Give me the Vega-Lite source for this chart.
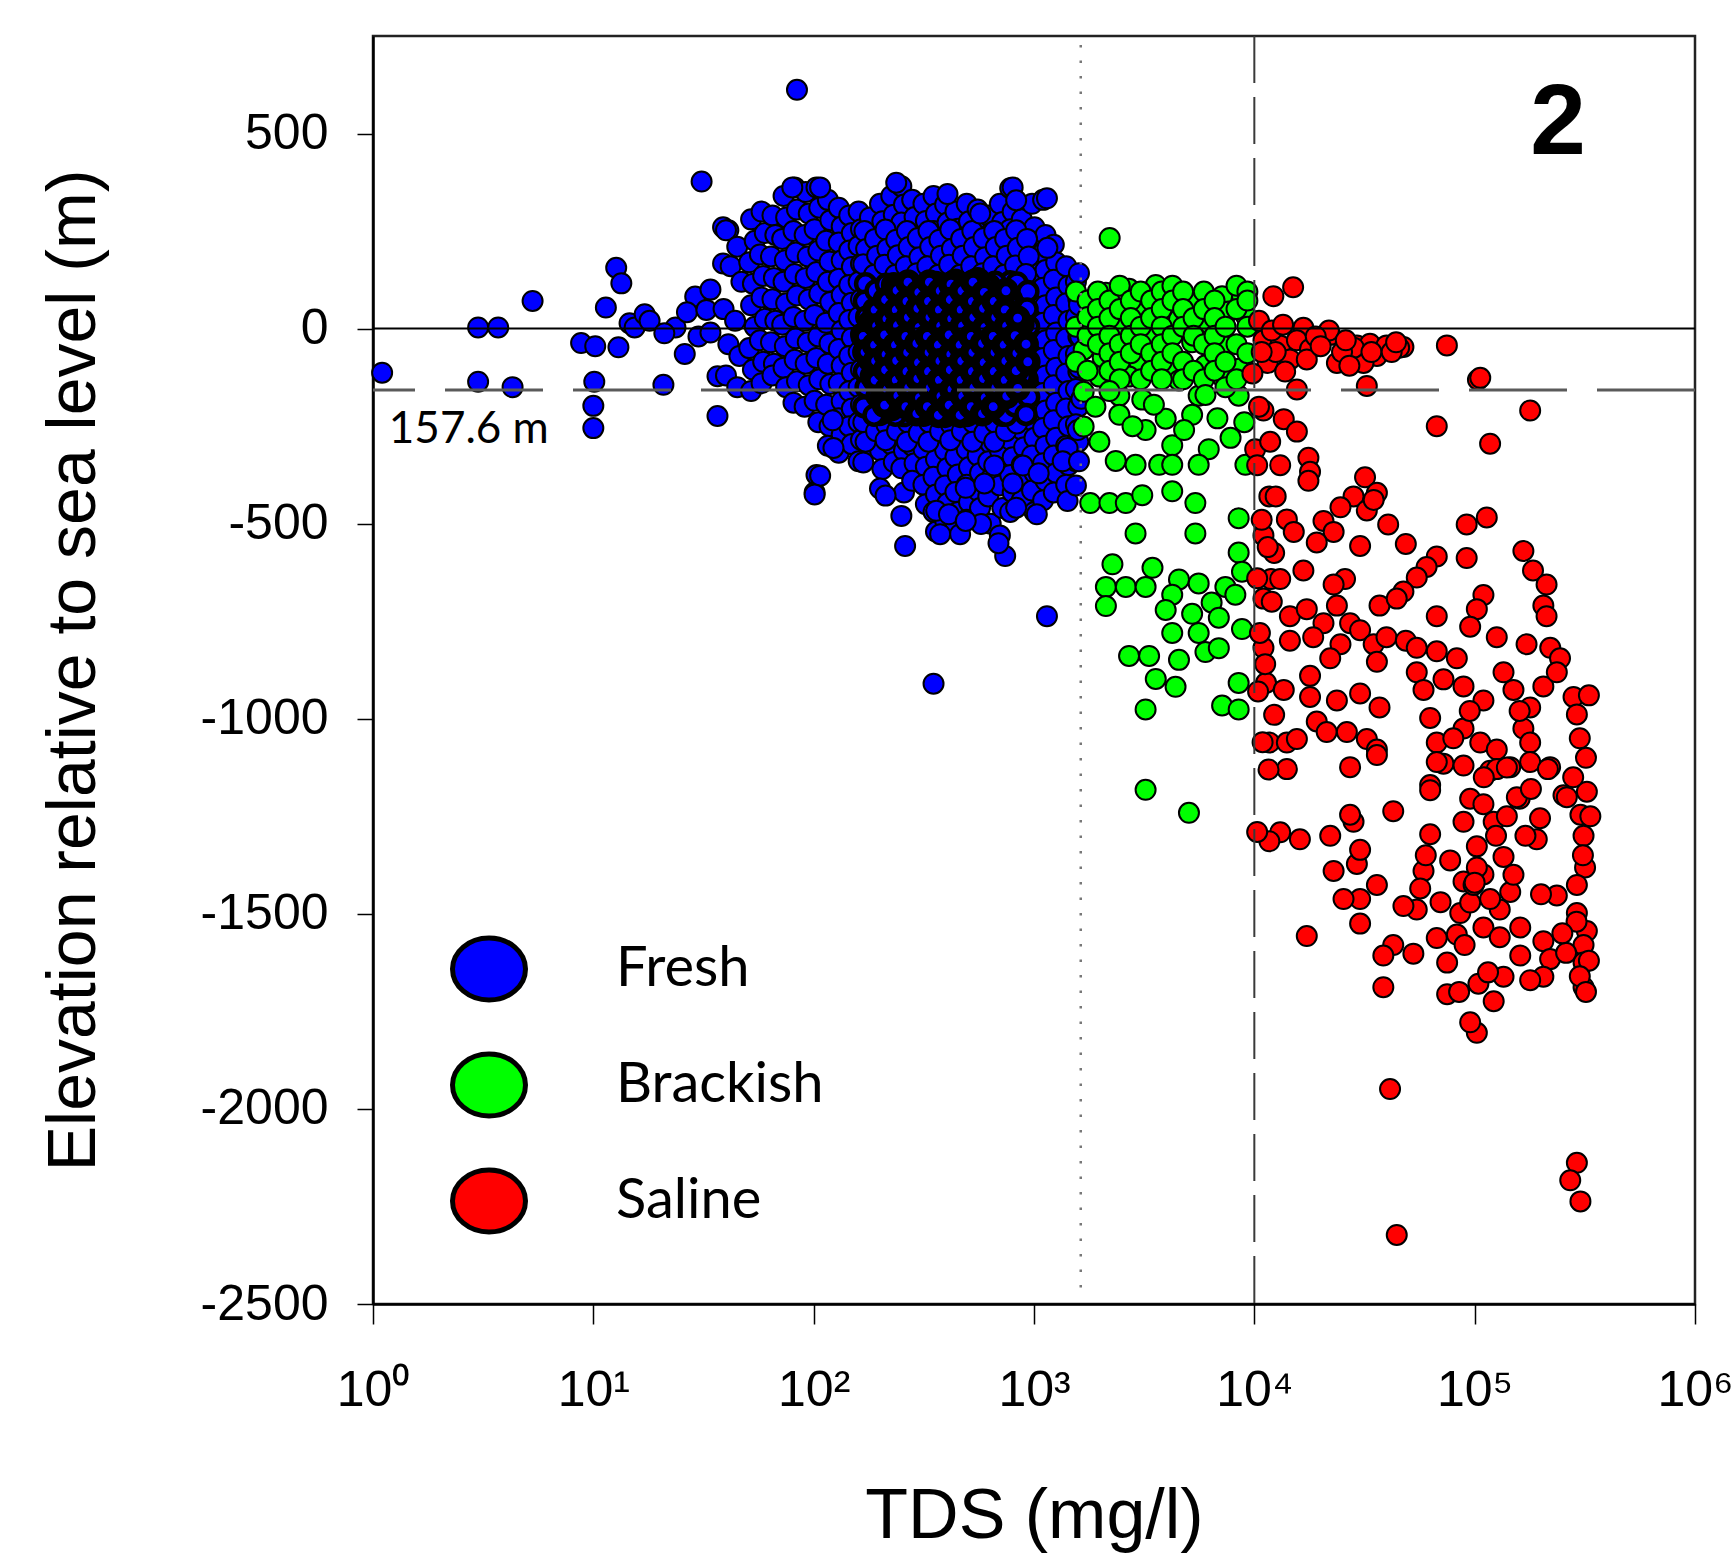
{
"$schema":"https://vega.github.io/schema/vega-lite/v6.json",
"width":1322,"height":1268,
"autosize":{"type":"none"},
"padding":{"left":373,"top":36,"right":36,"bottom":257},
"background":"white",
"config":{
 "view":{"stroke":"#222","strokeWidth":2.5},
 "axis":{"grid":false,"domainColor":"black","domainWidth":2.5,"tickColor":"black","tickWidth":1.5,"labelColor":"black","titleColor":"black","labelFont":"Liberation Sans","titleFont":"Liberation Sans","titleFontWeight":"normal"}
},
"datasets":{
"f":[
{"t":1.1,"e":-113},{"t":3,"e":3},{"t":3.7,"e":3},{"t":5.3,"e":71},{"t":3,"e":-136},{"t":4.3,"e":-150},{"t":8.8,"e":-37},{"t":10.2,"e":-45},{"t":10.1,"e":-136},{"t":10,"e":-198},{"t":10,"e":-255},{"t":11.4,"e":54},{"t":12.7,"e":156},{"t":13.4,"e":116},{"t":14.6,"e":14},{"t":15.4,"e":3},{"t":17.1,"e":37},{"t":13,"e":-48},{"t":20.8,"e":-144},{"t":23.6,"e":3},{"t":26,"e":-65},{"t":29,"e":82},{"t":31,"e":377},{"t":30,"e":-20},{"t":26.6,"e":42},{"t":32.6,"e":48},{"t":36.6,"e":-224},{"t":38.8,"e":260},{"t":41,"e":252},{"t":38.8,"e":167},{"t":36.6,"e":-122},{"t":84,"e":612},{"t":18,"e":20},{"t":21,"e":-12},{"t":34,"e":100},{"t":34,"e":-10},
{"t":40,"e":252},{"t":42,"e":160},{"t":39,"e":50},{"t":41,"e":-40},{"t":40,"e":-120},
{"t":45,"e":210},{"t":47,"e":120},{"t":44,"e":20},{"t":46,"e":-70},{"t":45,"e":-150},
{"t":52,"e":280},{"t":54,"e":225},{"t":51,"e":170},{"t":53,"e":115},{"t":52,"e":60},{"t":54,"e":5},{"t":51,"e":-50},{"t":53,"e":-105},{"t":52,"e":-160},
{"t":58,"e":300},{"t":60,"e":245},{"t":57,"e":190},{"t":59,"e":135},{"t":58,"e":80},{"t":60,"e":25},{"t":57,"e":-30},{"t":59,"e":-85},{"t":58,"e":-140},
{"t":65,"e":290},{"t":67,"e":240},{"t":64,"e":185},{"t":66,"e":130},{"t":65,"e":75},{"t":67,"e":20},{"t":64,"e":-35},{"t":66,"e":-90},{"t":65,"e":-120},
{"t":73,"e":340},{"t":75,"e":285},{"t":72,"e":230},{"t":74,"e":175},{"t":73,"e":120},{"t":75,"e":65},{"t":72,"e":10},{"t":74,"e":-45},{"t":73,"e":-100},{"t":75,"e":-150},
{"t":82,"e":362},{"t":84,"e":305},{"t":81,"e":250},{"t":83,"e":195},{"t":82,"e":140},{"t":84,"e":85},{"t":81,"e":30},{"t":83,"e":-25},{"t":82,"e":-80},{"t":84,"e":-135},{"t":81,"e":-190},
{"t":92,"e":350},{"t":95,"e":295},{"t":91,"e":240},{"t":94,"e":185},{"t":92,"e":130},{"t":95,"e":75},{"t":91,"e":20},{"t":94,"e":-35},{"t":92,"e":-90},{"t":95,"e":-145},{"t":91,"e":-200},
{"t":103,"e":362},{"t":106,"e":310},{"t":101,"e":255},{"t":105,"e":200},{"t":103,"e":145},{"t":106,"e":90},{"t":101,"e":35},{"t":105,"e":-20},{"t":103,"e":-75},{"t":106,"e":-130},{"t":101,"e":-185},{"t":105,"e":-240},{"t":103,"e":-375},{"t":101,"e":-420},
{"t":116,"e":330},{"t":119,"e":278},{"t":114,"e":225},{"t":118,"e":172},{"t":116,"e":120},{"t":119,"e":68},{"t":114,"e":15},{"t":118,"e":-38},{"t":116,"e":-90},{"t":119,"e":-142},{"t":114,"e":-195},{"t":118,"e":-250},{"t":116,"e":-300},
{"t":130,"e":310},{"t":134,"e":262},{"t":130,"e":221},{"t":134,"e":175},{"t":130,"e":128},{"t":134,"e":86},{"t":130,"e":40},{"t":134,"e":-5},{"t":130,"e":-52},{"t":134,"e":-95},{"t":130,"e":-140},{"t":134,"e":-186},{"t":130,"e":-230},{"t":134,"e":-272},{"t":130,"e":-318},
{"t":145,"e":290},{"t":149,"e":245},{"t":145,"e":200},{"t":149,"e":158},{"t":145,"e":112},{"t":149,"e":66},{"t":145,"e":22},{"t":149,"e":-24},{"t":145,"e":-70},{"t":149,"e":-113},{"t":145,"e":-160},{"t":149,"e":-205},{"t":145,"e":-250},{"t":149,"e":-296},
{"t":160,"e":300},{"t":164,"e":255},{"t":160,"e":212},{"t":164,"e":166},{"t":160,"e":120},{"t":164,"e":75},{"t":160,"e":30},{"t":164,"e":-14},{"t":160,"e":-60},{"t":164,"e":-105},{"t":160,"e":-150},{"t":164,"e":-195},{"t":160,"e":-240},{"t":164,"e":-285},{"t":160,"e":-340},
{"t":180,"e":285},{"t":185,"e":240},{"t":180,"e":196},{"t":185,"e":150},{"t":180,"e":-258},{"t":185,"e":-305},
{"t":200,"e":320},{"t":205,"e":275},{"t":200,"e":230},{"t":205,"e":185},{"t":200,"e":140},{"t":205,"e":-265},{"t":200,"e":-312},{"t":205,"e":-360},{"t":200,"e":-410},
{"t":225,"e":340},{"t":231,"e":292},{"t":225,"e":248},{"t":231,"e":202},{"t":225,"e":157},{"t":231,"e":-250},{"t":225,"e":-296},{"t":231,"e":-342},
{"t":250,"e":365},{"t":257,"e":318},{"t":250,"e":272},{"t":257,"e":227},{"t":250,"e":182},{"t":257,"e":137},{"t":250,"e":-268},{"t":257,"e":-313},{"t":250,"e":-358},{"t":257,"e":-420},{"t":250,"e":-480},
{"t":280,"e":330},{"t":287,"e":286},{"t":280,"e":240},{"t":287,"e":195},{"t":280,"e":150},{"t":287,"e":-255},{"t":280,"e":-300},{"t":287,"e":-345},{"t":280,"e":-390},
{"t":315,"e":320},{"t":323,"e":276},{"t":315,"e":231},{"t":323,"e":186},{"t":315,"e":141},{"t":323,"e":-264},{"t":315,"e":-309},{"t":323,"e":-354},{"t":315,"e":-400},{"t":323,"e":-450},
{"t":350,"e":340},{"t":359,"e":295},{"t":350,"e":250},{"t":359,"e":205},{"t":350,"e":160},{"t":359,"e":-245},{"t":350,"e":-290},{"t":359,"e":-335},{"t":350,"e":-380},{"t":359,"e":-425},{"t":350,"e":-470},{"t":359,"e":-520},
{"t":395,"e":318},{"t":405,"e":272},{"t":395,"e":228},{"t":405,"e":183},{"t":395,"e":138},{"t":405,"e":-267},{"t":395,"e":-312},{"t":405,"e":-357},{"t":395,"e":-402},{"t":405,"e":-447},{"t":395,"e":-492},
{"t":440,"e":300},{"t":451,"e":256},{"t":440,"e":211},{"t":451,"e":166},{"t":440,"e":-239},{"t":451,"e":-284},{"t":440,"e":-329},{"t":451,"e":-374},{"t":440,"e":-419},{"t":451,"e":-470},{"t":440,"e":-510},
{"t":495,"e":320},{"t":507,"e":275},{"t":495,"e":230},{"t":507,"e":185},{"t":495,"e":140},{"t":507,"e":-265},{"t":495,"e":-310},{"t":507,"e":-355},{"t":495,"e":-400},{"t":507,"e":-445},{"t":495,"e":-490},
{"t":555,"e":305},{"t":569,"e":260},{"t":555,"e":215},{"t":569,"e":170},{"t":555,"e":-235},{"t":569,"e":-280},{"t":555,"e":-325},{"t":569,"e":-370},{"t":555,"e":-415},{"t":569,"e":-460},
{"t":620,"e":290},{"t":636,"e":245},{"t":620,"e":200},{"t":636,"e":155},{"t":620,"e":-250},{"t":636,"e":-295},{"t":620,"e":-340},{"t":636,"e":-385},{"t":620,"e":-430},{"t":636,"e":-500},
{"t":700,"e":320},{"t":718,"e":273},{"t":700,"e":228},{"t":718,"e":183},{"t":700,"e":138},{"t":718,"e":-267},{"t":700,"e":-312},{"t":718,"e":-357},{"t":700,"e":-402},{"t":718,"e":-460},{"t":700,"e":-530},
{"t":780,"e":360},{"t":800,"e":300},{"t":780,"e":255},{"t":800,"e":210},{"t":780,"e":165},{"t":800,"e":-240},{"t":780,"e":-285},{"t":800,"e":-330},{"t":780,"e":-375},{"t":800,"e":-420},{"t":780,"e":-470},
{"t":880,"e":280},{"t":902,"e":236},{"t":880,"e":191},{"t":902,"e":146},{"t":880,"e":-259},{"t":902,"e":-304},{"t":880,"e":-349},{"t":902,"e":-394},{"t":880,"e":-440},
{"t":980,"e":320},{"t":1005,"e":260},{"t":980,"e":215},{"t":1005,"e":170},{"t":980,"e":125},{"t":1005,"e":80},{"t":980,"e":35},{"t":1005,"e":-10},{"t":980,"e":-55},{"t":1005,"e":-100},{"t":980,"e":-145},{"t":1005,"e":-190},{"t":980,"e":-235},{"t":1005,"e":-280},{"t":980,"e":-325},{"t":1005,"e":-370},{"t":980,"e":-415},{"t":1005,"e":-470},
{"t":1100,"e":330},{"t":1128,"e":240},{"t":1100,"e":195},{"t":1128,"e":150},{"t":1100,"e":105},{"t":1128,"e":60},{"t":1100,"e":15},{"t":1128,"e":-30},{"t":1100,"e":-75},{"t":1128,"e":-120},{"t":1100,"e":-165},{"t":1128,"e":-210},{"t":1100,"e":-255},{"t":1128,"e":-300},{"t":1100,"e":-345},{"t":1128,"e":-390},{"t":1100,"e":-440},
{"t":1230,"e":215},{"t":1261,"e":170},{"t":1230,"e":125},{"t":1261,"e":80},{"t":1230,"e":35},{"t":1261,"e":-10},{"t":1230,"e":-55},{"t":1261,"e":-100},{"t":1230,"e":-145},{"t":1261,"e":-190},{"t":1230,"e":-235},{"t":1261,"e":-280},{"t":1230,"e":-325},{"t":1261,"e":-370},{"t":1230,"e":-420},
{"t":1400,"e":160},{"t":1435,"e":110},{"t":1400,"e":65},{"t":1435,"e":20},{"t":1400,"e":-25},{"t":1435,"e":-70},{"t":1400,"e":-115},{"t":1435,"e":-160},{"t":1400,"e":-205},{"t":1435,"e":-250},{"t":1400,"e":-300},{"t":1435,"e":-350},{"t":1400,"e":-400},
{"t":1550,"e":120},{"t":1590,"e":75},{"t":1550,"e":30},{"t":1590,"e":-20},{"t":1550,"e":-65},{"t":1590,"e":-110},{"t":1550,"e":-155},{"t":1590,"e":-200},{"t":1550,"e":-245},{"t":1590,"e":-290},{"t":1550,"e":-340},
{"t":170,"e":250},{"t":173,"e":204},{"t":168,"e":165},{"t":168,"e":-240},{"t":172,"e":-290},
{"t":190,"e":230},{"t":194,"e":187},{"t":188,"e":138},{"t":192,"e":-263},
{"t":212,"e":254},{"t":216,"e":205},{"t":210,"e":164},{"t":214,"e":-246},{"t":212,"e":-286},
{"t":237,"e":228},{"t":241,"e":188},{"t":235,"e":138},{"t":239,"e":-262},
{"t":265,"e":250},{"t":270,"e":209},{"t":262,"e":160},{"t":268,"e":-241},{"t":265,"e":-290},
{"t":297,"e":232},{"t":302,"e":183},{"t":294,"e":142},{"t":300,"e":-267},
{"t":332,"e":250},{"t":338,"e":209},{"t":328,"e":160},{"t":335,"e":-241},{"t":332,"e":-290},
{"t":372,"e":228},{"t":378,"e":187},{"t":368,"e":138},{"t":375,"e":-263},
{"t":417,"e":254},{"t":424,"e":205},{"t":412,"e":164},{"t":420,"e":-246},{"t":417,"e":-286},
{"t":467,"e":230},{"t":475,"e":187},{"t":462,"e":138},{"t":471,"e":-263},
{"t":525,"e":250},{"t":534,"e":209},{"t":519,"e":160},{"t":529,"e":-241},{"t":525,"e":-290},
{"t":590,"e":232},{"t":600,"e":183},{"t":584,"e":142},{"t":595,"e":-267},
{"t":660,"e":250},{"t":671,"e":209},{"t":653,"e":160},{"t":666,"e":-241},{"t":660,"e":-290},
{"t":740,"e":230},{"t":752,"e":187},{"t":732,"e":138},{"t":746,"e":-263},
{"t":830,"e":252},{"t":844,"e":207},{"t":821,"e":162},{"t":837,"e":-243},
{"t":930,"e":230},{"t":946,"e":185},{"t":920,"e":140},
{"t":260,"e":-557},{"t":350,"e":-910},{"t":1145,"e":-737},{"t":740,"e":-583},{"t":690,"e":-550},{"t":1030,"e":-476},{"t":830,"e":-459},{"t":1420,"e":-442},{"t":1550,"e":-402},{"t":1420,"e":-306},{"t":1350,"e":-340},{"t":890,"e":-351},{"t":660,"e":-351},{"t":575,"e":-501},{"t":462,"e":-527},{"t":375,"e":-527},{"t":360,"e":-467},{"t":411,"e":-476},{"t":490,"e":-493},{"t":490,"e":-408},{"t":212,"e":-428},{"t":168,"e":-343},{"t":123,"e":-306},{"t":122,"e":-235},{"t":107,"e":-377},{"t":101,"e":-425},{"t":595,"e":-397},{"t":800,"e":-397},{"t":1050,"e":-371},
{"t":80,"e":362},{"t":107,"e":362},{"t":237,"e":374},{"t":405,"e":345},{"t":800,"e":362},{"t":830,"e":329},{"t":1145,"e":334},{"t":570,"e":295},{"t":1150,"e":207},{"t":1600,"e":142},{"t":1600,"e":60},{"t":1620,"e":-20},{"t":1600,"e":-100},{"t":1640,"e":-180},{"t":1580,"e":-260},{"t":1600,"e":-340}
],
"fm":[
{"t":180,"e":104},{"t":185,"e":58},{"t":180,"e":-168},{"t":185,"e":-214},{"t":205,"e":95},{"t":200,"e":-220},{"t":257,"e":-223},{"t":718,"e":-222},{"t":780,"e":120},{"t":780,"e":-195},{"t":880,"e":101},{"t":902,"e":56},{"t":880,"e":-169},{"t":902,"e":-214},
{"t":172,"e":115},{"t":170,"e":70},{"t":174,"e":30},{"t":170,"e":-110},{"t":173,"e":-150},{"t":169,"e":-200},{"t":192,"e":97},{"t":194,"e":-173},{"t":188,"e":-222},{"t":214,"e":114},{"t":235,"e":-222},{"t":666,"e":119},{"t":746,"e":-222},{"t":837,"e":117},{"t":830,"e":72},{"t":821,"e":-198},{"t":938,"e":95},{"t":930,"e":50},{"t":945,"e":5},{"t":930,"e":-130},{"t":946,"e":-175},{"t":920,"e":-220}
],
"fc":[
{"t":180,"e":14},{"t":185,"e":-32},{"t":180,"e":-78},{"t":185,"e":-122},
{"t":200,"e":50},{"t":205,"e":5},{"t":200,"e":-40},{"t":205,"e":-86},{"t":200,"e":-130},{"t":205,"e":-176},
{"t":231,"e":112},{"t":225,"e":66},{"t":231,"e":21},{"t":225,"e":-24},{"t":231,"e":-70},{"t":225,"e":-115},{"t":231,"e":-160},{"t":225,"e":-205},
{"t":250,"e":92},{"t":257,"e":47},{"t":250,"e":2},{"t":257,"e":-43},{"t":250,"e":-88},{"t":257,"e":-133},{"t":250,"e":-178},
{"t":287,"e":105},{"t":280,"e":60},{"t":287,"e":15},{"t":280,"e":-30},{"t":287,"e":-75},{"t":280,"e":-120},{"t":287,"e":-165},{"t":280,"e":-210},
{"t":323,"e":96},{"t":315,"e":51},{"t":323,"e":6},{"t":315,"e":-39},{"t":323,"e":-84},{"t":315,"e":-129},{"t":323,"e":-174},{"t":315,"e":-219},
{"t":359,"e":115},{"t":350,"e":70},{"t":359,"e":25},{"t":350,"e":-20},{"t":359,"e":-65},{"t":350,"e":-110},{"t":359,"e":-155},{"t":350,"e":-200},
{"t":405,"e":93},{"t":395,"e":48},{"t":405,"e":3},{"t":395,"e":-42},{"t":405,"e":-87},{"t":395,"e":-132},{"t":405,"e":-177},{"t":395,"e":-222},
{"t":440,"e":121},{"t":451,"e":76},{"t":440,"e":31},{"t":451,"e":-14},{"t":440,"e":-59},{"t":451,"e":-104},{"t":440,"e":-149},{"t":451,"e":-194},
{"t":507,"e":95},{"t":495,"e":50},{"t":507,"e":5},{"t":495,"e":-40},{"t":507,"e":-85},{"t":495,"e":-130},{"t":507,"e":-175},{"t":495,"e":-220},
{"t":555,"e":125},{"t":569,"e":80},{"t":555,"e":35},{"t":569,"e":-10},{"t":555,"e":-55},{"t":569,"e":-100},{"t":555,"e":-145},{"t":569,"e":-190},
{"t":620,"e":110},{"t":636,"e":65},{"t":620,"e":20},{"t":636,"e":-25},{"t":620,"e":-70},{"t":636,"e":-115},{"t":620,"e":-160},{"t":636,"e":-205},
{"t":718,"e":93},{"t":700,"e":48},{"t":718,"e":3},{"t":700,"e":-42},{"t":718,"e":-87},{"t":700,"e":-132},{"t":718,"e":-177},
{"t":780,"e":75},{"t":800,"e":30},{"t":780,"e":-15},{"t":800,"e":-60},{"t":780,"e":-105},{"t":800,"e":-150},
{"t":880,"e":11},{"t":902,"e":-34},{"t":880,"e":-79},{"t":902,"e":-124},
{"t":168,"e":-20},{"t":171,"e":-60},
{"t":190,"e":48},{"t":193,"e":7},{"t":189,"e":-42},{"t":191,"e":-83},{"t":190,"e":-132},
{"t":212,"e":74},{"t":215,"e":25},{"t":210,"e":-16},{"t":213,"e":-66},{"t":212,"e":-106},{"t":216,"e":-156},{"t":210,"e":-196},
{"t":239,"e":98},{"t":237,"e":48},{"t":240,"e":8},{"t":235,"e":-42},{"t":238,"e":-82},{"t":237,"e":-132},{"t":241,"e":-172},
{"t":268,"e":119},{"t":265,"e":70},{"t":269,"e":29},{"t":262,"e":-20},{"t":267,"e":-61},{"t":265,"e":-110},{"t":270,"e":-151},{"t":262,"e":-200},
{"t":300,"e":93},{"t":297,"e":52},{"t":301,"e":3},{"t":294,"e":-38},{"t":299,"e":-87},{"t":297,"e":-128},{"t":302,"e":-177},{"t":294,"e":-218},
{"t":335,"e":119},{"t":332,"e":70},{"t":337,"e":29},{"t":328,"e":-20},{"t":334,"e":-61},{"t":332,"e":-110},{"t":338,"e":-151},{"t":328,"e":-200},
{"t":375,"e":97},{"t":372,"e":48},{"t":377,"e":7},{"t":368,"e":-42},{"t":374,"e":-83},{"t":372,"e":-132},{"t":378,"e":-173},{"t":368,"e":-222},
{"t":420,"e":114},{"t":417,"e":74},{"t":423,"e":25},{"t":412,"e":-16},{"t":419,"e":-66},{"t":417,"e":-106},{"t":424,"e":-156},{"t":412,"e":-196},
{"t":471,"e":97},{"t":467,"e":48},{"t":474,"e":7},{"t":462,"e":-42},{"t":470,"e":-83},{"t":467,"e":-132},{"t":475,"e":-173},{"t":462,"e":-222},
{"t":529,"e":119},{"t":525,"e":70},{"t":533,"e":29},{"t":519,"e":-20},{"t":528,"e":-61},{"t":525,"e":-110},{"t":534,"e":-151},{"t":519,"e":-200},
{"t":595,"e":93},{"t":590,"e":52},{"t":599,"e":3},{"t":584,"e":-38},{"t":594,"e":-87},{"t":590,"e":-128},{"t":600,"e":-177},{"t":584,"e":-218},
{"t":660,"e":70},{"t":670,"e":29},{"t":653,"e":-20},{"t":665,"e":-61},{"t":660,"e":-110},{"t":671,"e":-151},{"t":653,"e":-200},
{"t":746,"e":97},{"t":740,"e":48},{"t":751,"e":7},{"t":732,"e":-42},{"t":745,"e":-83},{"t":740,"e":-132},{"t":752,"e":-173},
{"t":843,"e":27},{"t":821,"e":-18},{"t":836,"e":-63},{"t":830,"e":-108},{"t":844,"e":-153},
{"t":920,"e":-40},{"t":937,"e":-85}
],
"b":[
{"t":3570,"e":112},{"t":2700,"e":102},{"t":3960,"e":63},{"t":5220,"e":63},{"t":7140,"e":83},{"t":8790,"e":83},{"t":7650,"e":44},{"t":9110,"e":34},{"t":1800,"e":73},{"t":2120,"e":92},{"t":3000,"e":44},{"t":4550,"e":24},{"t":6210,"e":14},{"t":2440,"e":4},{"t":3450,"e":-25},{"t":5220,"e":-35},{"t":7390,"e":-45},{"t":1680,"e":-54},{"t":2050,"e":-74},{"t":3000,"e":-84},{"t":4240,"e":-94},{"t":6000,"e":-94},{"t":8490,"e":-103},{"t":7140,"e":-123},{"t":1980,"e":-123},{"t":2700,"e":-123},{"t":4550,"e":-133},{"t":1680,"e":-162},{"t":2440,"e":-172},{"t":3100,"e":-182},{"t":5590,"e":-172},{"t":8490,"e":-172},{"t":1680,"e":-251},{"t":2440,"e":-221},{"t":3960,"e":-231},{"t":5220,"e":-221},{"t":1980,"e":-290},{"t":2350,"e":-339},{"t":3210,"e":-260},{"t":4240,"e":-299},{"t":6210,"e":-309},{"t":2890,"e":-349},{"t":3700,"e":-349},{"t":4240,"e":-349},{"t":5590,"e":-349},{"t":9110,"e":-349},{"t":1800,"e":-447},{"t":2200,"e":-447},{"t":2610,"e":-447},{"t":3100,"e":-427},{"t":4240,"e":-417},{"t":5400,"e":-447},{"t":8490,"e":-486},{"t":2890,"e":-525},{"t":5400,"e":-525},{"t":2270,"e":-604},{"t":3450,"e":-613},{"t":8490,"e":-574},{"t":8790,"e":-623},{"t":2120,"e":-662},{"t":2610,"e":-662},{"t":3210,"e":-662},{"t":2120,"e":-711},{"t":4550,"e":-643},{"t":5590,"e":-653},{"t":7390,"e":-662},{"t":4240,"e":-682},{"t":6400,"e":-702},{"t":8200,"e":-682},{"t":3960,"e":-721},{"t":5220,"e":-731},{"t":6900,"e":-741},{"t":4240,"e":-780},{"t":5590,"e":-780},{"t":8790,"e":-770},{"t":2700,"e":-839},{"t":3330,"e":-839},{"t":4550,"e":-849},{"t":6000,"e":-829},{"t":6900,"e":-819},{"t":3570,"e":-898},{"t":4390,"e":-918},{"t":8490,"e":-908},{"t":3210,"e":-976},{"t":7140,"e":-966},{"t":8490,"e":-976},{"t":3210,"e":-1182},{"t":5050,"e":-1241},{"t":2205,"e":232},
{"t":1550,"e":95},{"t":1550,"e":5},{"t":1550,"e":-85},{"t":1750,"e":72},{"t":1750,"e":-18},{"t":1750,"e":-108},{"t":1750,"e":30},{"t":1950,"e":95},{"t":1950,"e":50},{"t":1950,"e":5},{"t":1950,"e":-40},{"t":2200,"e":72},{"t":2200,"e":27},{"t":2200,"e":-18},{"t":2200,"e":-63},{"t":2200,"e":-108},{"t":2450,"e":110},{"t":2450,"e":50},{"t":2450,"e":-40},{"t":2450,"e":-85},{"t":2450,"e":-130},{"t":2750,"e":72},{"t":2750,"e":27},{"t":2750,"e":-18},{"t":2750,"e":-63},{"t":3050,"e":95},{"t":3050,"e":5},{"t":3050,"e":-40},{"t":3050,"e":-130},{"t":3400,"e":72},{"t":3400,"e":27},{"t":3400,"e":-63},{"t":3400,"e":-108},{"t":3800,"e":95},{"t":3800,"e":50},{"t":3800,"e":5},{"t":3800,"e":-40},{"t":3800,"e":-85},{"t":3800,"e":-130},{"t":4250,"e":110},{"t":4250,"e":72},{"t":4250,"e":-18},{"t":4250,"e":-63},{"t":4750,"e":95},{"t":4750,"e":50},{"t":4750,"e":5},{"t":4750,"e":-85},{"t":4750,"e":-130},{"t":5300,"e":27},{"t":5300,"e":-18},{"t":5300,"e":-108},{"t":5900,"e":95},{"t":5900,"e":50},{"t":5900,"e":-40},{"t":5900,"e":-130},{"t":6600,"e":72},{"t":6600,"e":27},{"t":6600,"e":-18},{"t":6600,"e":-63},{"t":6600,"e":-108},{"t":7400,"e":5},{"t":7400,"e":-85},{"t":7400,"e":-150},{"t":8300,"e":110},{"t":8300,"e":50},{"t":8300,"e":-40},{"t":8300,"e":-130},{"t":9300,"e":95},{"t":9300,"e":72},{"t":9300,"e":5},{"t":9300,"e":-63},
{"t":1900,"e":-200},{"t":2800,"e":-250},{"t":3500,"e":-195},{"t":4800,"e":-260},{"t":6800,"e":-230},{"t":7800,"e":-280},{"t":9000,"e":-240},{"t":2200,"e":-160},{"t":6000,"e":-170}
],
"s":[
{"t":12200,"e":83},{"t":15000,"e":106},{"t":16700,"e":2},{"t":11000,"e":-30},{"t":13100,"e":-43},{"t":15600,"e":-30},{"t":17900,"e":-52},{"t":22100,"e":-16},{"t":11500,"e":-88},{"t":14500,"e":-79},{"t":17300,"e":-79},{"t":23700,"e":-88},{"t":29200,"e":-43},{"t":33500,"e":-39},{"t":36000,"e":-70},{"t":39800,"e":-43},{"t":47500,"e":-47},{"t":74800,"e":-43},{"t":31300,"e":-88},{"t":32400,"e":-147},{"t":15600,"e":-156},{"t":103500,"e":-131},{"t":9800,"e":-115},{"t":11000,"e":-210},{"t":13600,"e":-232},{"t":15600,"e":-264},{"t":67300,"e":-250},{"t":178600,"e":-210},{"t":117500,"e":-295},{"t":10090,"e":-309},{"t":13100,"e":-350},{"t":17600,"e":-331},{"t":17900,"e":-367},{"t":17600,"e":-390},{"t":11700,"e":-430},{"t":31800,"e":-381},{"t":28200,"e":-430},{"t":36000,"e":-421},{"t":32400,"e":-466},{"t":34800,"e":-439},{"t":24600,"e":-458},{"t":14050,"e":-489},{"t":15100,"e":-521},{"t":11000,"e":-530},{"t":20600,"e":-493},{"t":22900,"e":-521},{"t":19200,"e":-548},{"t":30200,"e":-557},{"t":40500,"e":-502},{"t":48700,"e":-552},{"t":92000,"e":-502},{"t":113500,"e":-484},{"t":166400,"e":-570},{"t":12300,"e":-575},{"t":16700,"e":-620},{"t":11900,"e":-642},{"t":13100,"e":-642},{"t":25800,"e":-642},{"t":22900,"e":-656},{"t":67300,"e":-584},{"t":60500,"e":-611},{"t":54600,"e":-638},{"t":47500,"e":-674},{"t":92000,"e":-588},{"t":184000,"e":-620},{"t":212000,"e":-656},{"t":205000,"e":-710},{"t":212000,"e":-737},{"t":11000,"e":-692},{"t":37000,"e":-710},{"t":44300,"e":-692},{"t":109600,"e":-683},{"t":102300,"e":-719},{"t":67300,"e":-737},{"t":14500,"e":-737},{"t":17300,"e":-719},{"t":20600,"e":-755},{"t":23700,"e":-710},{"t":27200,"e":-755},{"t":30200,"e":-773},{"t":95400,"e":-764},{"t":126000,"e":-791},{"t":14500,"e":-800},{"t":18500,"e":-791},{"t":24600,"e":-809},{"t":34800,"e":-809},{"t":39800,"e":-791},{"t":48700,"e":-800},{"t":54600,"e":-818},{"t":67300,"e":-827},{"t":83000,"e":-845},{"t":172000,"e":-809},{"t":220300,"e":-818},{"t":244000,"e":-845},{"t":11000,"e":-818},{"t":22100,"e":-845},{"t":36000,"e":-854},{"t":11300,"e":-908},{"t":13600,"e":-926},{"t":17900,"e":-890},{"t":17900,"e":-944},{"t":23700,"e":-953},{"t":30200,"e":-935},{"t":37000,"e":-971},{"t":54600,"e":-881},{"t":58600,"e":-926},{"t":72200,"e":-899},{"t":89000,"e":-917},{"t":109600,"e":-953},{"t":135200,"e":-881},{"t":150000,"e":-926},{"t":178600,"e":-971},{"t":205000,"e":-917},{"t":236000,"e":-881},{"t":281000,"e":-944},{"t":291000,"e":-989},{"t":11700,"e":-1061},{"t":14050,"e":-1061},{"t":15600,"e":-1052},{"t":19200,"e":-1007},{"t":21300,"e":-1034},{"t":26300,"e":-1034},{"t":32400,"e":-1052},{"t":36000,"e":-1079},{"t":62800,"e":-998},{"t":67300,"e":-1061},{"t":89000,"e":-1025},{"t":106000,"e":-1061},{"t":126000,"e":-1079},{"t":166400,"e":-1025},{"t":178600,"e":-1061},{"t":220000,"e":-1124},{"t":62800,"e":-1170},{"t":72200,"e":-1115},{"t":117500,"e":-1133},{"t":145000,"e":-1124},{"t":14050,"e":-1129},{"t":27200,"e":-1124},{"t":95400,"e":-1205},{"t":323000,"e":-1187},{"t":253000,"e":-1196},{"t":160000,"e":-1205},
{"t":36000,"e":-1093},{"t":67300,"e":-1111},{"t":89000,"e":-1120},{"t":126000,"e":-1129},{"t":140000,"e":-1125},{"t":178600,"e":-1111},{"t":215000,"e":-1129},{"t":62800,"e":-1183},{"t":109600,"e":-1219},{"t":155400,"e":-1201},{"t":262000,"e":-1201},{"t":302000,"e":-1246},{"t":198000,"e":-1255},{"t":191400,"e":-1309},{"t":312000,"e":-1300},{"t":89000,"e":-1264},{"t":122000,"e":-1264},{"t":102300,"e":-1327},{"t":135200,"e":-1354},{"t":317000,"e":-1381},{"t":291000,"e":-1426},{"t":236000,"e":-1453},{"t":291000,"e":-1498},{"t":323000,"e":-1544},{"t":312000,"e":-1580},{"t":312000,"e":-1625},{"t":312000,"e":-1688},{"t":205000,"e":-1570},{"t":220000,"e":-1616},{"t":205000,"e":-1661},{"t":178600,"e":-1670},{"t":161000,"e":-1535},{"t":161000,"e":-1607},{"t":130000,"e":-1489},{"t":145000,"e":-1444},{"t":109600,"e":-1535},{"t":117500,"e":-1462},{"t":135200,"e":-1661},{"t":122000,"e":-1724},{"t":104000,"e":-1679},{"t":102300,"e":-1805},{"t":95400,"e":-1778},{"t":83000,"e":-1553},{"t":86000,"e":-1498},{"t":95400,"e":-1471},{"t":109600,"e":-1399},{"t":89000,"e":-1417},{"t":98900,"e":-1426},{"t":67300,"e":-1562},{"t":75000,"e":-1625},{"t":75000,"e":-1706},{"t":54600,"e":-1489},{"t":47500,"e":-1480},{"t":52700,"e":-1602},{"t":42700,"e":-1580},{"t":38500,"e":-1607},{"t":38500,"e":-1688},{"t":58600,"e":-1390},{"t":56600,"e":-1435},{"t":36000,"e":-1426},{"t":30200,"e":-1462},{"t":30200,"e":-1525},{"t":25400,"e":-1462},{"t":22900,"e":-1390},{"t":29200,"e":-1372},{"t":28200,"e":-1264},{"t":27200,"e":-1246},{"t":30200,"e":-1336},{"t":22100,"e":-1300},{"t":17300,"e":-1557},{"t":16100,"e":-1309},{"t":13100,"e":-1291},{"t":11700,"e":-1314},{"t":42700,"e":-1237},{"t":62800,"e":-1296},{"t":77400,"e":-1363},{"t":102300,"e":-1381},{"t":41300,"e":-1949},{"t":291000,"e":-2138},{"t":271500,"e":-2183},{"t":302000,"e":-2237},{"t":44300,"e":-2323},
{"t":21800,"e":-5},{"t":28300,"e":-49},{"t":45400,"e":-49},{"t":10500,"e":20},{"t":12000,"e":-5},{"t":13500,"e":10},{"t":19000,"e":-20},{"t":20000,"e":-45},{"t":25000,"e":-60},{"t":27000,"e":-95},{"t":12500,"e":-60},{"t":10800,"e":-60},{"t":13800,"e":-110},{"t":26000,"e":-30},{"t":34000,"e":-60},{"t":42000,"e":-60},{"t":44000,"e":-35},{"t":106000,"e":-126},
{"t":10500,"e":-200},{"t":11800,"e":-290},{"t":10300,"e":-350},{"t":12500,"e":-430},{"t":10800,"e":-490},{"t":11500,"e":-560},{"t":10300,"e":-640},{"t":12000,"e":-700},{"t":10600,"e":-780},{"t":11200,"e":-860},{"t":10400,"e":-930},{"t":12300,"e":-990},{"t":10900,"e":-1060},{"t":11600,"e":-1130},{"t":10300,"e":-1290},
{"t":330000,"e":-940},{"t":300000,"e":-1050},{"t":320000,"e":-1100},{"t":280000,"e":-1150},{"t":335000,"e":-1250},{"t":310000,"e":-1350},{"t":290000,"e":-1520},{"t":330000,"e":-1620},{"t":300000,"e":-1660},{"t":320000,"e":-1700},{"t":260000,"e":-1600},{"t":250000,"e":-1550},
{"t":80000,"e":-1050},{"t":95000,"e":-980},{"t":110000,"e":-1150},{"t":125000,"e":-1300},{"t":140000,"e":-1250},{"t":100000,"e":-1420},{"t":90000,"e":-1580},{"t":115000,"e":-1650},{"t":130000,"e":-1560},{"t":150000,"e":-1400},{"t":170000,"e":-1300},{"t":200000,"e":-1450},{"t":180000,"e":-1180},{"t":160000,"e":-980},{"t":60000,"e":-1350},{"t":70000,"e":-1470},{"t":85000,"e":-1700}
]
},
"layer":[
{"data":{"name":"f"},
 "mark":{"type":"point","shape":"circle","filled":true,"size":400,"stroke":"black","strokeWidth":2,"opacity":1},
 "encoding":{
  "x":{"field":"t","type":"quantitative","scale":{"type":"log","domain":[1,1000000],"nice":false},
   "axis":{"values":[1,10,100,1000,10000,100000,1000000],"labelExpr":"'10' + ['⁰','¹','²','³','⁴','⁵','⁶'][round(log(datum.value)/LN10)]","labelFontSize":50,"labelPadding":41,"tickSize":20,"labelFlush":false,"labelOverlap":false,"title":"TDS (mg/l)","titleFontSize":70,"titlePadding":67}},
  "y":{"field":"e","type":"quantitative","scale":{"domain":[-2500,750],"nice":false,"zero":false},
   "axis":{"values":[500,0,-500,-1000,-1500,-2000,-2500],"labelExpr":"datum.value + ''","labelFontSize":50,"labelPadding":29,"tickSize":16,"title":"Elevation relative to sea level (m)","titleFontSize":68,"titlePadding":92}},
  "color":{"datum":"Fresh","type":"nominal","scale":{"domain":["Fresh","Brackish","Saline"],"range":["#0000ff","#00ff00","#ff0000"]},
   "legend":{"orient":"none","legendX":77,"legendY":894,"title":null,"padding":0,"symbolType":"M-1,0A1,0.85,0,1,1,1,0A1,0.85,0,1,1,-1,0Z","symbolSize":5329,"symbolStrokeColor":"#3f5f8a","symbolStrokeWidth":5,"symbolOpacity":1,"labelFont":"Lato","labelFontSize":56,"labelColor":"black","labelOffset":88,"rowPadding":32,"labelLimit":0}}
 }},
{"data":{"name":"fm"},
 "mark":{"type":"point","shape":"circle","filled":true,"size":360,"stroke":"black","strokeWidth":4.5,"opacity":1},
 "encoding":{"x":{"field":"t","type":"quantitative"},"y":{"field":"e","type":"quantitative"},"color":{"datum":"Fresh","type":"nominal"}}},
{"data":{"name":"fc"},
 "mark":{"type":"point","shape":"circle","filled":true,"size":300,"stroke":"black","strokeWidth":8.5,"opacity":1},
 "encoding":{"x":{"field":"t","type":"quantitative"},"y":{"field":"e","type":"quantitative"},"color":{"datum":"Fresh","type":"nominal"}}},
{"data":{"name":"b"},
 "mark":{"type":"point","shape":"circle","filled":true,"size":400,"stroke":"black","strokeWidth":2,"opacity":1},
 "encoding":{"x":{"field":"t","type":"quantitative"},"y":{"field":"e","type":"quantitative"},"color":{"datum":"Brackish","type":"nominal"}}},
{"data":{"name":"s"},
 "mark":{"type":"point","shape":"circle","filled":true,"size":400,"stroke":"black","strokeWidth":2,"opacity":1},
 "encoding":{"x":{"field":"t","type":"quantitative"},"y":{"field":"e","type":"quantitative"},"color":{"datum":"Saline","type":"nominal"}}},
{"data":{"values":[{}]},"mark":{"type":"rule","color":"black","strokeWidth":2},"encoding":{"y":{"datum":0,"type":"quantitative"}}},
{"data":{"values":[{}]},"mark":{"type":"rule","color":"#5a5a5a","strokeWidth":3,"strokeDash":[98,30]},"encoding":{"y":{"datum":-157.6,"type":"quantitative"}}},
{"data":{"values":[{}]},"mark":{"type":"rule","color":"#3a3a3a","strokeWidth":2,"strokeDash":[47,14]},"encoding":{"x":{"datum":10000,"type":"quantitative"}}},
{"data":{"values":[{}]},"mark":{"type":"rule","color":"#777777","strokeWidth":2.5,"strokeDash":[2.5,13]},"encoding":{"x":{"datum":1630,"type":"quantitative"},"y":{"datum":727,"type":"quantitative"},"y2":{"datum":-2470}}},
{"data":{"values":[{}]},"mark":{"type":"text","text":"157.6 m","font":"Lato","fontSize":44,"align":"left","baseline":"alphabetic","color":"black"},"encoding":{"x":{"datum":1.18,"type":"quantitative"},"y":{"datum":-294,"type":"quantitative"}}},
{"data":{"values":[{}]},"mark":{"type":"text","text":"2","font":"Liberation Sans","fontWeight":"bold","fontSize":100,"align":"center","baseline":"alphabetic","color":"black"},"encoding":{"x":{"datum":239000,"type":"quantitative"},"y":{"datum":447,"type":"quantitative"}}}
]
}
